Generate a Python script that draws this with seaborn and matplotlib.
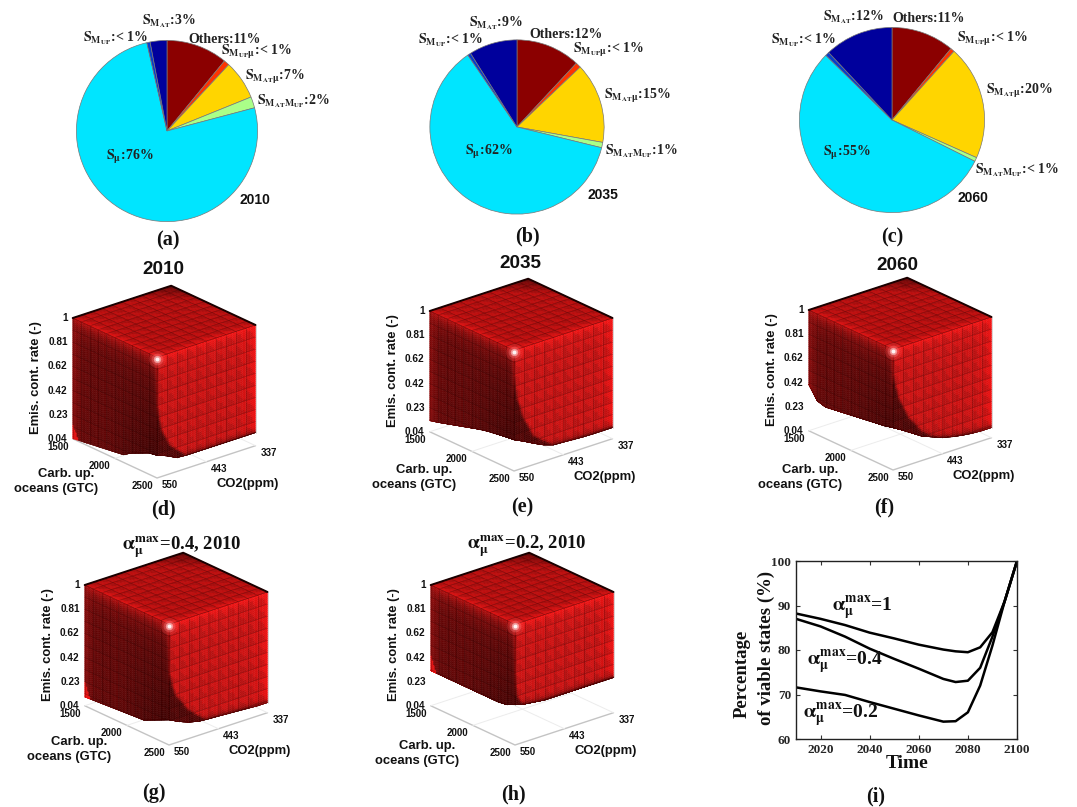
import numpy as np
import pandas as pd
import seaborn as sns
import matplotlib
matplotlib.use("Agg")
import matplotlib.pyplot as plt
from mpl_toolkits.mplot3d import proj3d

W, H = 1077, 807

# pie data, clockwise from the top
pie_names = ["Others", "SMUPmu", "SMATmu", "SMATMUP", "Smu", "SMUP", "SMAT"]
pie_2010 = [11, 1, 7, 2, 76, 0.6, 3]
pie_2035 = [12, 1, 15, 1, 62, 0.6, 9]
pie_2060 = [11, 0.7, 20, 0.7, 55, 0.7, 12]
pie_colors = ["#8b0000", "#ff3300", "#ffd500", "#aaff88", "#00e5ff", "#0a3cc8", "#00009c"]

labels_2010 = ["Others:11%", r"$S_{M_{UP}\mu}$:< 1%", r"$S_{M_{AT}\mu}$:7%", r"$S_{M_{AT}M_{UP}}$:2%",
               r"$S_{\mu}$:76%", r"$S_{M_{UP}}$:< 1%", r"$S_{M_{AT}}$:3%"]
labels_2035 = ["Others:12%", r"$S_{M_{UP}\mu}$:< 1%", r"$S_{M_{AT}\mu}$:15%", r"$S_{M_{AT}M_{UP}}$:1%",
               r"$S_{\mu}$:62%", r"$S_{M_{UP}}$:< 1%", r"$S_{M_{AT}}$:9%"]
labels_2060 = ["Others:11%", r"$S_{M_{UP}\mu}$:< 1%", r"$S_{M_{AT}\mu}$:20%", r"$S_{M_{AT}M_{UP}}$:< 1%",
               r"$S_{\mu}$:55%", r"$S_{M_{UP}}$:< 1%", r"$S_{M_{AT}}$:12%"]

# viable set: lower emission bound along each visible face (11 stations)
low_left_d = [.04, .05, .06, .07, .08, .09, .10, .144, .176, .208, .22]
low_right_d = [.22, .19, .15, .144, .144, .144, .144, .144, .144, .144, .144]
low_left_e = [.128, .145, .165, .185, .205, .225, .245, .26, .27, .28, .288]
low_right_e = [.288, .25, .208, .17, .144, .14, .135, .13, .128, .128, .128]
low_left_f = [.41, .31, .29, .30, .31, .32, .33, .34, .35, .36, .376]
low_right_f = [.376, .33, .28, .23, .20, .17, .15, .135, .125, .12, .12]
low_left_g = [.11, .115, .12, .125, .13, .135, .14, .144, .176, .208, .24]
low_right_g = [.24, .20, .17, .15, .144, .14, .135, .13, .125, .12, .12]
low_left_h = [.32, .32, .32, .32, .32, .32, .32, .32, .32, .33, .36]
low_right_h = [.36, .34, .33, .32, .32, .32, .32, .32, .32, .32, .32]

# how far the dark zone reaches on the right face at each emission level
dark_levels = [.04, .14, .27, .43, .62, .81, 1]
dark_d = [.30, .30, .127, .04, 0, 0, 0]
dark_e = [.40, .40, .20, .10, .03, 0, 0]
dark_f = [.50, .50, .30, .15, .05, 0, 0]
dark_g = [.38, .38, .20, .06, 0, 0, 0]
dark_h = [.12, .12, .12, .02, 0, 0, 0]

emis_ticks = [.04, .23, .42, .62, .81, 1]
emis_text = ["0.04", "0.23", "0.42", "0.62", "0.81", "1"]
carbon_ticks = [1500, 2000, 2500]
co2_ticks = [550, 443, 337]

# viable states over time
years = [2010, 2020, 2030, 2040, 2050, 2060, 2070, 2075, 2080, 2085, 2090, 2095, 2100]
alpha_1 = [88.2, 87, 85.6, 83.9, 82.6, 81.2, 80.1, 79.7, 79.5, 80.6, 84, 91, 100]
alpha_04 = [87, 85.3, 83, 80.3, 78, 75.8, 73.5, 72.8, 73.1, 76, 83, 91, 100]
alpha_02 = [71.6, 70.7, 69.9, 68.3, 66.8, 65.3, 63.9, 64, 66, 72, 81, 91, 100]

sns.set_style("white")
plt.rcParams["font.family"] = ["Liberation Serif", "DejaVu Sans"]
plt.rcParams["font.weight"] = "bold"
plt.rcParams["mathtext.fontset"] = "stix"
plt.rcParams["mathtext.default"] = "bf"

fig = plt.figure(figsize=(W / 100, H / 100), dpi=100)


def put(x, y, s, **kw):
    kw.setdefault("ha", "center")
    kw.setdefault("va", "center")
    kw.setdefault("color", "#111111")
    fig.text(x / W, 1 - y / H, s, **kw)


def sans(x, y, s, size, **kw):
    put(x, y, s, family="Liberation Sans", fontweight="bold", fontsize=size, **kw)


def draw_pie(cx, cy, r, values, labels, spots, year, year_spot):
    ax = fig.add_axes([(cx - r) / W, 1 - (cy + r) / H, 2 * r / W, 2 * r / H])
    ax.pie(values, colors=pie_colors, startangle=90, counterclock=False, radius=1,
           wedgeprops={"edgecolor": "#777777", "linewidth": 0.5})
    ax.set_xlim(-1.01, 1.01)
    ax.set_ylim(-1.01, 1.01)
    for s, (x, y) in zip(labels, spots):
        put(x, y, s, ha="left", va="baseline", fontsize=10, color="#222222")
    sans(year_spot[0], year_spot[1], year, 10, ha="left", va="baseline")


draw_pie(167, 131, 91.5, pie_2010, labels_2010,
         [(188, 43), (221, 55), (245, 80), (257, 104), (106, 160), (83, 41), (142, 24)], "2010", (240, 204))
draw_pie(517, 127, 88, pie_2035, labels_2035,
         [(529, 38), (573, 53), (604, 99), (605, 154), (465, 155), (418, 43), (469, 26)], "2035", (588, 199))
draw_pie(892, 120, 93.5, pie_2060, labels_2060,
         [(892, 22), (957, 42), (986, 94), (975, 173), (823, 156), (771, 43), (823, 20)], "2060", (957, 202))


def to_px(ax, x, y, z):
    X, Y, _ = proj3d.proj_transform(x, y, z, ax.get_proj())
    p = ax.transData.transform((X, Y))
    return p[0], H - p[1]


def lerp(a, b, f):
    a = np.array(a)
    b = np.array(b)
    return a + (b - a) * f[..., None]


def cell_pattern(u, v, amount):
    # the mesh has a lit and an unlit triangle in each of its cells
    fu = (u * 10) % 1
    fv = (v * 10) % 1
    return np.where(fu + fv < 1, 1 - amount, 1 + amount)


def draw_cube(front, low_left, low_right, dark, corner, title_shift):
    size = 320
    ax = fig.add_axes([0, 0, size / W, size / H], projection="3d", computed_zorder=False, proj_type="ortho")
    ax.set_axis_off()
    ax.patch.set_visible(False)
    ax.view_init(elev=23, azim=50)
    ax.set_xlim(337, 550)
    ax.set_ylim(1500, 2500)
    ax.set_zlim(.04, 1)
    box = (1, 1.02, 1.02)
    ax.set_box_aspect(box)
    a = to_px(ax, 550, 2500, .04)
    b = to_px(ax, 337, 2500, .04)
    ax.set_box_aspect(box, zoom=98.5 / (b[0] - a[0]))
    a = to_px(ax, 550, 2500, .04)
    ax.set_position([(front[0] - a[0]) / W, (a[1] - front[1]) / H, size / W, size / H])

    # floor lines
    floor = "#c4c4c4"
    ax.plot([550, 550, 337], [1500, 2500, 2500], [.04, .04, .04], color=floor, lw=1, zorder=1)
    ax.plot([443, 443], [1500, 2500], [.04, .04], color="#ececec", lw=0.7, zorder=1)
    ax.plot([337, 550], [2000, 2000], [.04, .04], color="#ececec", lw=0.7, zorder=1)
    ax.plot([550, 337], [1500, 1500], [.04, .04], color="#ececec", lw=0.7, zorder=1)
    ax.plot([337, 337], [1500, 2500], [.04, .04], color="#ececec", lw=0.7, zorder=1)

    n = 60
    st = np.linspace(0, 1, 11)
    u = np.linspace(0, 1, n + 1)
    v = np.linspace(0, 1, n + 1)
    uu, vv = np.meshgrid(u, v)
    uc, vc = np.meshgrid((u[:-1] + u[1:]) / 2, (v[:-1] + v[1:]) / 2)

    # left face, co2 = 550
    zreg = .04 + .96 * vv
    low = np.interp(uu, st, low_left)
    zz = np.maximum(zreg, low)
    ec = .04 + .96 * vc
    lowc = np.interp(uc, st, low_left)
    col = lerp((.37, .015, .015), (.24, .0, .0), np.clip((uc - .4) * (1 - vc) * 2, 0, 1))
    col = lerp(col, (.68, .05, .05), np.exp(-(1 - vc) / .07))
    col = lerp(col, (.60, .04, .04), np.exp(-uc / .05))
    col = lerp(col, (.75, .06, .06), np.exp(-(1 - uc) / .02) * np.clip(vc * 1.3 - .3, 0, 1) ** 3)
    tri = (uc < .07) & (ec < lowc + .13 * (1 - uc / .07)) if corner else np.zeros_like(uc, dtype=bool)
    col = np.where(tri[..., None], np.array((.90, .05, .05)), col)
    col = np.clip(col * cell_pattern(uc, vc, .03)[..., None], 0, 1)
    ax.plot_surface(np.full_like(zz, 550), 1500 + 1000 * uu, zz, facecolors=col, rstride=1, cstride=1,
                    shade=False, linewidth=0.3, zorder=2)

    # right face, carbon = 2500
    low = np.interp(uu, st, low_right)
    zz = np.maximum(zreg, low)
    lowc = np.interp(uc, st, low_right)
    reach = np.interp(ec, dark_levels, dark)
    col = lerp((.76, .06, .06), (.90, .05, .05), np.exp(-(1 - uc) / .07))
    col = lerp(col, (.90, .07, .07), np.exp(-(1 - vc) / .06))
    col = lerp(col, (.30, .01, .01), np.clip((reach + .012 - uc) / .03, 0, 1))
    col = lerp(col, (.32, .01, .01), np.exp(-np.clip(ec - lowc, 0, 1) / .018))
    col = np.clip(col * cell_pattern(uc, vc, .06)[..., None], 0, 1)
    ax.plot_surface(550 - 213 * uu, np.full_like(zz, 2500), zz, facecolors=col, rstride=1, cstride=1,
                    shade=False, linewidth=0.3, zorder=2)

    # top face, emission rate = 1
    col = lerp((.36, .01, .01), (.70, .04, .04), np.clip((uc + vc) * 2.5, 0, 1))
    col = lerp(col, (.84, .06, .06), np.exp(-(1 - np.maximum(uc, vc)) / .05) * np.clip(np.minimum(uc, vc) * 2 + .4, 0, 1))
    col = np.clip(col * cell_pattern(uc, vc, .06)[..., None], 0, 1)
    ax.plot_surface(337 + 213 * uu, 1500 + 1000 * vv, np.ones_like(uu), facecolors=col, rstride=1, cstride=1,
                    shade=False, linewidth=0.3, zorder=3)

    # mesh lines
    mesh = {"color": "#200000", "lw": 0.4, "alpha": 0.3, "zorder": 4}
    for f, lo_l, lo_r in zip(st, low_left, low_right):
        ax.plot([550, 550], [1500 + 1000 * f] * 2, [lo_l, 1], **mesh)
        ax.plot([550 - 213 * f] * 2, [2500, 2500], [lo_r, 1], **mesh)
        ax.plot([337 + 213 * f] * 2, [1500, 2500], [1, 1], **mesh)
        ax.plot([337, 550], [1500 + 1000 * f] * 2, [1, 1], **mesh)
        e = .04 + .96 * f
        line = np.linspace(0, 1, 40)
        ax.plot(np.full(40, 550.), 1500 + 1000 * line,
                np.where(e >= np.interp(line, st, low_left), e, np.nan), **mesh)
        ax.plot(550 - 213 * line, np.full(40, 2500.),
                np.where(e >= np.interp(line, st, low_right), e, np.nan), **mesh)

    # dark back edges of the top and the highlight on the corner
    ax.plot([550, 337, 337], [1500, 1500, 2500], [1, 1, 1], color="#1a0000", lw=1.4, zorder=5)
    for s, c in zip([150, 70, 28, 8], [(1, .3, .3, .25), (1, .5, .5, .35), (1, .8, .8, .6), (1, 1, 1, .9)]):
        ax.scatter([550], [2500], [.985], s=s, color=[c], depthshade=False, linewidths=0, zorder=6)

    # tick labels and axis titles, placed from the projected axis positions
    for value, s in zip(emis_ticks, emis_text):
        x, y = to_px(ax, 550, 1500, value)
        sans(x - 5, y, s, 7.2, ha="right")
    for value in carbon_ticks:
        x, y = to_px(ax, 550, value, .04)
        sans(x - 15, y + 8, str(value), 7)
    for value in co2_ticks:
        x, y = to_px(ax, value, 2500, .04)
        sans(x + 13, y + 7, str(value), 7)
    x, y = to_px(ax, 550, 2500, .04)
    sans(x + 91, y + 6, "CO2(ppm)", 9.4)
    sans(x - 55 + title_shift[0], y + title_shift[1], "Carb. up.", 9.4, ha="right")
    sans(x - 51 + title_shift[0], y + 15 + title_shift[1], "oceans (GTC)", 9.4, ha="right")
    x, y = to_px(ax, 550, 1500, 1)
    sans(x - 37, y + 60, "Emis. cont. rate (-)", 9.4, rotation=90)


draw_cube((157, 478), low_left_d, low_right_d, dark_d, True, (-8, -4))
draw_cube((514, 471), low_left_e, low_right_e, dark_e, False, (-7, -1))
draw_cube((893, 470), low_left_f, low_right_f, dark_f, False, (0, 0))
draw_cube((169, 745), low_left_g, low_right_g, dark_g, True, (-7, -3))
draw_cube((515, 745), low_left_h, low_right_h, dark_h, True, (-5, 1))

sans(163, 270, "2010", 13.6)
sans(520, 264, "2035", 13.6)
sans(897, 266, "2060", 13.6)
put(182, 548, r"$\alpha_{\mu}^{max}$=0.4, 2010", fontsize=13.5)
put(527, 547, r"$\alpha_{\mu}^{max}$=0.2, 2010", fontsize=13.5)

# percentage of viable states
df = pd.DataFrame({
    "year": years * 3,
    "pct": alpha_1 + alpha_04 + alpha_02,
    "case": ["1"] * len(years) + ["0.4"] * len(years) + ["0.2"] * len(years),
})
ax = fig.add_axes([796 / W, 1 - 739 / H, 221 / W, 178 / H])
sns.lineplot(data=df, x="year", y="pct", hue="case", palette=["black"] * 3, linewidth=1.8,
             legend=False, errorbar=None, ax=ax)
ax.set_xlim(2010, 2100)
ax.set_ylim(60, 100)
ax.set_xticks([2020, 2040, 2060, 2080, 2100])
ax.set_yticks([60, 70, 80, 90, 100])
ax.set_xlabel("")
ax.set_ylabel("")
ax.tick_params(direction="in", length=3, width=0.8, labelsize=9.5, top=True, right=True, bottom=True, left=True, color="#333333")
for sp in ax.spines.values():
    sp.set_color("#222222")
    sp.set_linewidth(1)
put(832, 611, r"$\alpha_{\mu}^{max}$=1", ha="left", va="baseline", fontsize=14)
put(807, 665, r"$\alpha_{\mu}^{max}$=0.4", ha="left", va="baseline", fontsize=14)
put(803, 718, r"$\alpha_{\mu}^{max}$=0.2", ha="left", va="baseline", fontsize=14)
put(742, 674, "Percentage", rotation=90, fontsize=13.5)
put(766, 648, "of viable states (%)", rotation=90, fontsize=13.5)
put(907, 764, "Time", fontsize=14)

# panel letters
for s, x, y in [("(a)", 168, 240), ("(b)", 527, 236), ("(c)", 892, 237),
                ("(d)", 163, 509), ("(e)", 522, 507), ("(f)", 884, 507),
                ("(g)", 154, 793), ("(h)", 513, 794), ("(i)", 876, 796)]:
    put(x, y, s, fontsize=14.5)

fig.savefig("out.png", dpi=100)
